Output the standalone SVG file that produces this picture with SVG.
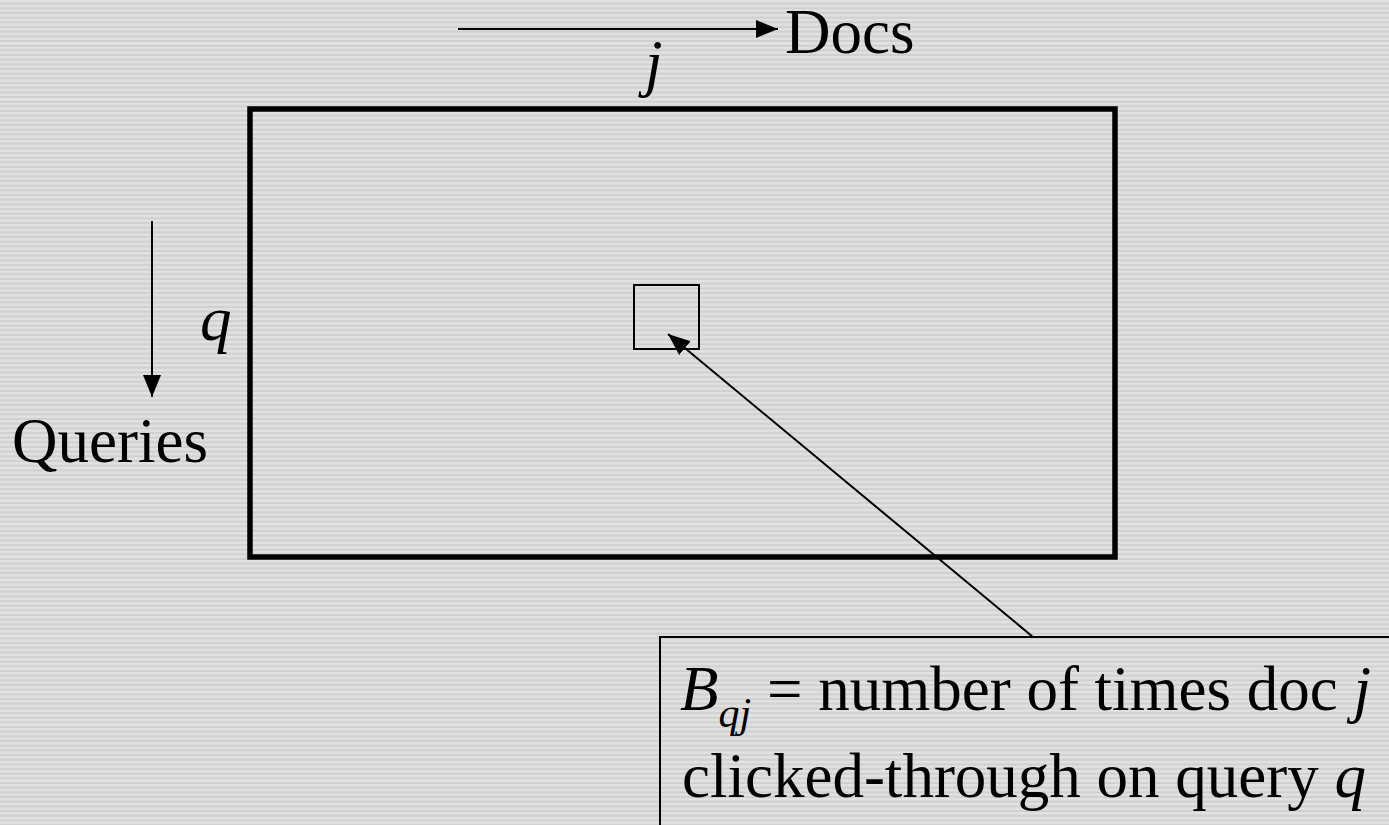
<svg xmlns="http://www.w3.org/2000/svg" width="1389" height="825" viewBox="0 0 1389 825">
<defs>
<pattern id="stripes" patternUnits="userSpaceOnUse" width="10" height="4.667">
<rect width="10" height="4.667" fill="#e1e1e1"/>
<rect y="2.6" width="10" height="2.067" fill="#d0d0d0"/>
</pattern>
<marker id="arrow" markerUnits="userSpaceOnUse" markerWidth="24" markerHeight="20" refX="22" refY="10" orient="auto" viewBox="0 0 24 20">
<path d="M0,1 L22,10 L0,19 Z" fill="#000"/>
</marker>
</defs>
<style>
.t{font-family:"Liberation Serif","Tinos","Times New Roman","DejaVu Serif",serif;font-size:63px;fill:#000}
.i{font-style:italic}
.conn{stroke:#000;stroke-width:2;fill:none}
</style>
<rect width="1389" height="825" fill="url(#stripes)"/>
<g id="matrix">
<rect x="250" y="109" width="865" height="448" fill="none" stroke="#000" stroke-width="5.5"/>
</g>
<g id="cell">
<rect x="634" y="285" width="65" height="64" fill="none" stroke="#000" stroke-width="2"/>
</g>
<g id="docs-label">
<text class="t" x="785" y="53" font-family="Liberation Serif, serif">Docs</text>
<text class="t i" x="645" y="84" font-family="Liberation Serif, serif">j</text>
</g>
<g id="queries-label">
<text class="t" x="12" y="462" font-family="Liberation Serif, serif">Queries</text>
<text class="t i" x="200" y="340" font-family="Liberation Serif, serif">q</text>
</g>
<g id="callout">
<rect x="660" y="637" width="800" height="260" fill="none" stroke="#000" stroke-width="2"/>
<text class="t" x="680" y="710" font-family="Liberation Serif, serif"><tspan class="i">B</tspan><tspan class="i" font-size="42" dy="17">qj</tspan><tspan dy="-17"> = number of times doc </tspan><tspan class="i">j</tspan></text>
<text class="t" x="682" y="797" font-family="Liberation Serif, serif">clicked-through on query <tspan class="i">q</tspan></text>
</g>
<g id="connectors">
<line class="conn" x1="458" y1="29" x2="778" y2="29" marker-end="url(#arrow)"/>
<line class="conn" x1="152" y1="221" x2="152" y2="397" marker-end="url(#arrow)"/>
<line class="conn" x1="1033" y1="637" x2="668" y2="334" stroke-width="1.6" marker-end="url(#arrow)"/>
</g>
</svg>
